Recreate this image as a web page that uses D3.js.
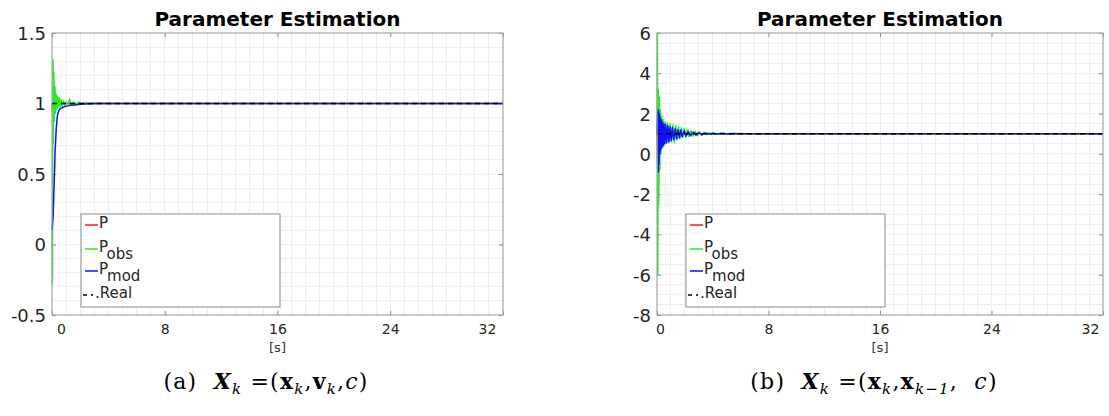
<!DOCTYPE html>
<html><head><meta charset="utf-8">
<script src="https://cdn.jsdelivr.net/npm/d3@7"></script>
<style>body{margin:0;background:#fff} svg{display:block}</style>
</head><body>
<svg id="c" width="1109" height="416"></svg>
<script>
// ---------- data ----------
const xTicks = [0, 8, 16, 24, 32];
const yTicksA = [-0.5, 0, 0.5, 1, 1.5];
const yTicksB = [-8, -6, -4, -2, 0, 2, 4, 6];
const titleText = "Parameter Estimation";
const xLabelText = "[s]";
const legendNames = [["P", ""], ["P", "obs"], ["P", "mod"], ["Real", ""]];

// chart (a)
const a_P = [[0,1.0],[0.04,0.96],[0.08,0.9],[0.11,0.87],[0.15,0.93],[0.2,0.98],[0.3,1.01],[0.4,0.99],[0.6,1.0],[32,1.0]];
const a_Pobs = [[0,0.1],[0.03,-0.28],[0.07,1.31],[0.1,0.72],[0.13,1.22],[0.17,0.88],[0.21,1.12],[0.25,0.93],[0.3,1.07],[0.35,0.96],[0.4,1.05],[0.46,0.97],[0.52,1.04],[0.58,0.98],[0.65,1.03],[0.72,0.98],[0.8,1.02],[0.9,0.99],[1.0,1.01],[1.1,0.995],[1.25,1.03],[1.35,0.99],[1.5,1.01],[1.7,0.995],[1.9,1.01],[2.1,0.995],[2.4,1.008],[2.7,0.997],[3.0,1.004],[3.5,1.0],[32,1.0]];
const a_Pmod = [[0,0.1],[0.08,0.2],[0.15,0.42],[0.22,0.66],[0.3,0.82],[0.38,0.91],[0.46,0.945],[0.55,0.96],[0.7,0.97],[0.9,0.978],[1.2,0.985],[1.6,0.99],[2.0,0.995],[2.6,0.998],[3.5,1.0],[32,1.0]];
const a_Real = [[0,1],[32,1]];

// chart (b)
const b_P = [[0,1.0],[0.08,-1.55],[0.12,1.2],[0.16,-0.6],[0.2,1.6],[0.24,0.2],[0.3,1.65],[0.35,0.5],[0.41,1.4],[0.48,0.7],[0.56,1.3],[0.65,0.8],[0.8,1.2],[0.95,0.85],[1.1,1.12],[1.3,0.92],[1.5,1.06],[1.8,0.97],[2.2,1.02],[2.6,1.0],[32,1.0]];
const b_Pobs = [[0,1.0],[0.03,6.0],[0.06,-6.0],[0.1,3.2],[0.13,-2.5],[0.17,2.8],[0.21,-0.8],[0.25,2.2],[0.29,0.0],[0.34,1.9],[0.39,0.3],[0.44,1.7],[0.5,0.4],[0.58,1.6],[0.66,0.5],[0.75,1.55],[0.85,0.55],[0.95,1.5],[1.05,0.6],[1.15,1.45],[1.25,0.55],[1.35,1.4],[1.45,0.7],[1.55,1.35],[1.65,0.75],[1.75,1.3],[1.85,0.8],[1.95,1.25],[2.05,0.82],[2.15,1.2],[2.3,0.85],[2.45,1.15],[2.6,0.88],[2.75,1.12],[2.9,0.9],[3.05,1.1],[3.2,0.92],[3.35,1.07],[3.5,0.95],[3.7,1.05],[3.9,0.96],[4.1,1.04],[4.3,0.97],[4.6,1.03],[4.9,0.98],[5.2,1.02],[5.6,0.99],[6.0,1.01],[6.5,1.0],[32,1.0]];
const b_Pmod = [[0,1.0],[0.07,2.2],[0.1,-0.9],[0.12,2.1],[0.14,-0.5],[0.17,2.0],[0.2,0.0],[0.23,1.8],[0.26,0.2],[0.3,1.7],[0.34,0.3],[0.38,1.6],[0.44,0.4],[0.5,1.5],[0.56,0.5],[0.63,1.45],[0.7,0.55],[0.78,1.4],[0.86,0.6],[0.94,1.35],[1.02,0.65],[1.1,1.3],[1.2,0.7],[1.3,1.25],[1.4,0.75],[1.5,1.2],[1.6,0.8],[1.7,1.18],[1.8,0.85],[1.95,1.15],[2.1,0.88],[2.25,1.12],[2.4,0.9],[2.6,1.08],[2.8,0.93],[3.0,1.06],[3.2,0.95],[3.45,1.04],[3.7,0.97],[4.0,1.03],[4.3,0.98],[4.7,1.02],[5.1,0.99],[5.5,1.01],[6.0,1.0],[32,1.0]];
const b_Real = [[0,1],[32,1]];

// ---------- drawing ----------
const svg = d3.select("#c");
const colors = ["#ff1a1a", "#22ee22", "#1010ff", "#000000"];
const fmt = d => String(d);

function drawChart(o) {
  const top = 33, bottom = 315;
  const x = d3.scaleLinear().domain([0, 32]).range([o.left, o.right]);
  const y = d3.scaleLinear().domain(o.yDomain).range([bottom, top]);
  const g = svg.append("g");
  const clipId = "clip" + o.id;
  svg.append("clipPath").attr("id", clipId).append("rect")
    .attr("x", o.left - 2).attr("y", top - 1).attr("width", o.right - o.left + 2).attr("height", bottom - top + 2);

  // grid
  const grid = g.append("g").attr("stroke", "#eeeeee").attr("stroke-width", 1).attr("shape-rendering", "crispEdges");
  grid.selectAll(".v").data(d3.range(1, 32, 1)).join("line")
    .attr("x1", d => x(d)).attr("x2", d => x(d)).attr("y1", top).attr("y2", bottom);
  const nH = Math.round((o.yDomain[1] - o.yDomain[0]) / o.minorY);
  grid.selectAll(".h").data(d3.range(1, nH)).join("line")
    .attr("x1", o.left).attr("x2", o.right)
    .attr("y1", i => y(o.yDomain[0] + i * o.minorY)).attr("y2", i => y(o.yDomain[0] + i * o.minorY));

  // axes
  const axB = g.append("g").attr("transform", `translate(0,${bottom})`)
    .call(d3.axisBottom(x).tickValues(xTicks).tickSizeInner(-4).tickSizeOuter(0).tickPadding(9).tickFormat(fmt));
  axB.selectAll("text").attr("dx", (d, i) => i === 0 ? o.firstDx : (i === xTicks.length - 1 ? o.lastDx : 0));
  const axT = g.append("g").attr("transform", `translate(0,${top})`)
    .call(d3.axisTop(x).tickValues(xTicks).tickSizeInner(-4).tickSizeOuter(0).tickFormat(""));
  const axL = g.append("g").attr("transform", `translate(${o.left},0)`)
    .call(d3.axisLeft(y).tickValues(o.yTicks).tickSizeInner(-4).tickSizeOuter(0).tickPadding(6).tickFormat(fmt));
  const axR = g.append("g").attr("transform", `translate(${o.right},0)`)
    .call(d3.axisRight(y).tickValues(o.yTicks).tickSizeInner(-4).tickSizeOuter(0).tickFormat(""));
  [axB, axT, axL, axR].forEach(a => {
    a.select(".domain").remove();
    a.selectAll("line").attr("stroke", "#8c8c8c");
  });
  axB.selectAll("text").attr("font-family", "DejaVu Sans").attr("font-size", 14).attr("fill", "#262626");
  axL.selectAll("text").attr("font-family", "DejaVu Sans").attr("font-size", 18).attr("fill", "#262626").attr("dy", "0.36em");

  // lines
  const line = d3.line().x(d => x(d[0])).y(d => y(d[1]));
  const lg = g.append("g").attr("clip-path", `url(#${clipId})`).attr("fill", "none");
  o.series.forEach((s, i) => {
    const p = lg.append("path").datum(s).attr("d", line)
      .attr("stroke", colors[i]).attr("stroke-width", 1.5).attr("stroke-linejoin", "round");
    if (i === 3) p.attr("stroke-dasharray", "5,4");
  });

  // frame
  g.append("rect").attr("x", o.left).attr("y", top).attr("width", o.right - o.left).attr("height", bottom - top)
    .attr("fill", "none").attr("stroke", "#a6a6a6").attr("stroke-width", 1.2);

  // legend
  const L = g.append("g").attr("transform", `translate(${o.legX},214)`);
  L.append("rect").attr("x", 0).attr("y", 0).attr("width", 199).attr("height", 93)
    .attr("fill", "#fff").attr("stroke", "#8c8c8c").attr("stroke-width", 1);
  const rowsY = [11, 35, 57, 81];
  legendNames.forEach((nm, i) => {
    const ly = rowsY[i];
    const ln = L.append("line").attr("x1", i === 3 ? 2 : 4).attr("x2", i === 3 ? 12 : 17)
      .attr("y1", ly).attr("y2", ly).attr("stroke", colors[i]).attr("stroke-width", 1.5);
    if (i === 3) ln.attr("stroke-dasharray", "4,4");
    const t = L.append("text").attr("x", i === 3 ? 14 : 18).attr("y", ly + 3)
      .attr("font-family", "DejaVu Sans").attr("font-size", 15).attr("fill", "#262626");
    t.append("tspan").text(i === 3 ? "." + nm[0] : nm[0]);
    if (nm[1]) t.append("tspan").attr("dy", 7).attr("dx", -1).attr("font-size", 15).text(nm[1]);
  });

  // title and x label
  const cx = (o.left + o.right) / 2;
  svg.append("text").attr("x", cx).attr("y", 26).attr("text-anchor", "middle")
    .attr("font-family", "DejaVu Sans").attr("font-weight", "bold").attr("font-size", 20).attr("fill", "#000")
    .text(titleText);
  svg.append("text").attr("x", cx).attr("y", 352).attr("text-anchor", "middle")
    .attr("font-family", "DejaVu Sans").attr("font-size", 13).attr("fill", "#333").text(xLabelText);

  // caption
  const cap = svg.append("text").attr("x", o.capX).attr("y", 389).attr("text-anchor", "middle")
    .attr("font-family", "DejaVu Serif").attr("font-size", 22).attr("letter-spacing", 1.2).attr("fill", "#000");
  o.caption.forEach(p => {
    const ts = cap.append("tspan").text(p.t);
    if (p.b) ts.attr("font-weight", "bold");
    if (p.i) ts.attr("font-style", "italic");
    if (p.sub) ts.attr("font-size", 15).attr("dy", 5);
    if (p.up) ts.attr("dy", -5);
  });
}

drawChart({
  id: "a", left: 52, right: 503, yDomain: [-0.5, 1.5], yTicks: yTicksA, minorY: 0.1,
  firstDx: 9, lastDx: -16, legX: 81, capX: 266,
  series: [a_P, a_Pobs, a_Pmod, a_Real],
  caption: [{t: "(a)\u00a0 "}, {t: "X", b: 1, i: 1}, {t: "k", i: 1, sub: 1}, {t: " =(", up: 1},
    {t: "x", b: 1}, {t: "k", i: 1, sub: 1}, {t: ",", up: 1}, {t: "v", b: 1}, {t: "k", i: 1, sub: 1},
    {t: ",", up: 1}, {t: "c", i: 1}, {t: ")"}]
});
drawChart({
  id: "b", left: 657, right: 1103, yDomain: [-8, 6], yTicks: yTicksB, minorY: 0.5,
  firstDx: 3, lastDx: -13, legX: 686, capX: 874,
  series: [b_P, b_Pobs, b_Pmod, b_Real],
  caption: [{t: "(b)\u00a0 "}, {t: "X", b: 1, i: 1}, {t: "k", i: 1, sub: 1}, {t: " =(", up: 1},
    {t: "x", b: 1}, {t: "k", i: 1, sub: 1}, {t: ",", up: 1}, {t: "x", b: 1}, {t: "k\u22121", i: 1, sub: 1},
    {t: ",\u00a0 ", up: 1}, {t: "c", i: 1}, {t: ")"}]
});
</script>
</body></html>
